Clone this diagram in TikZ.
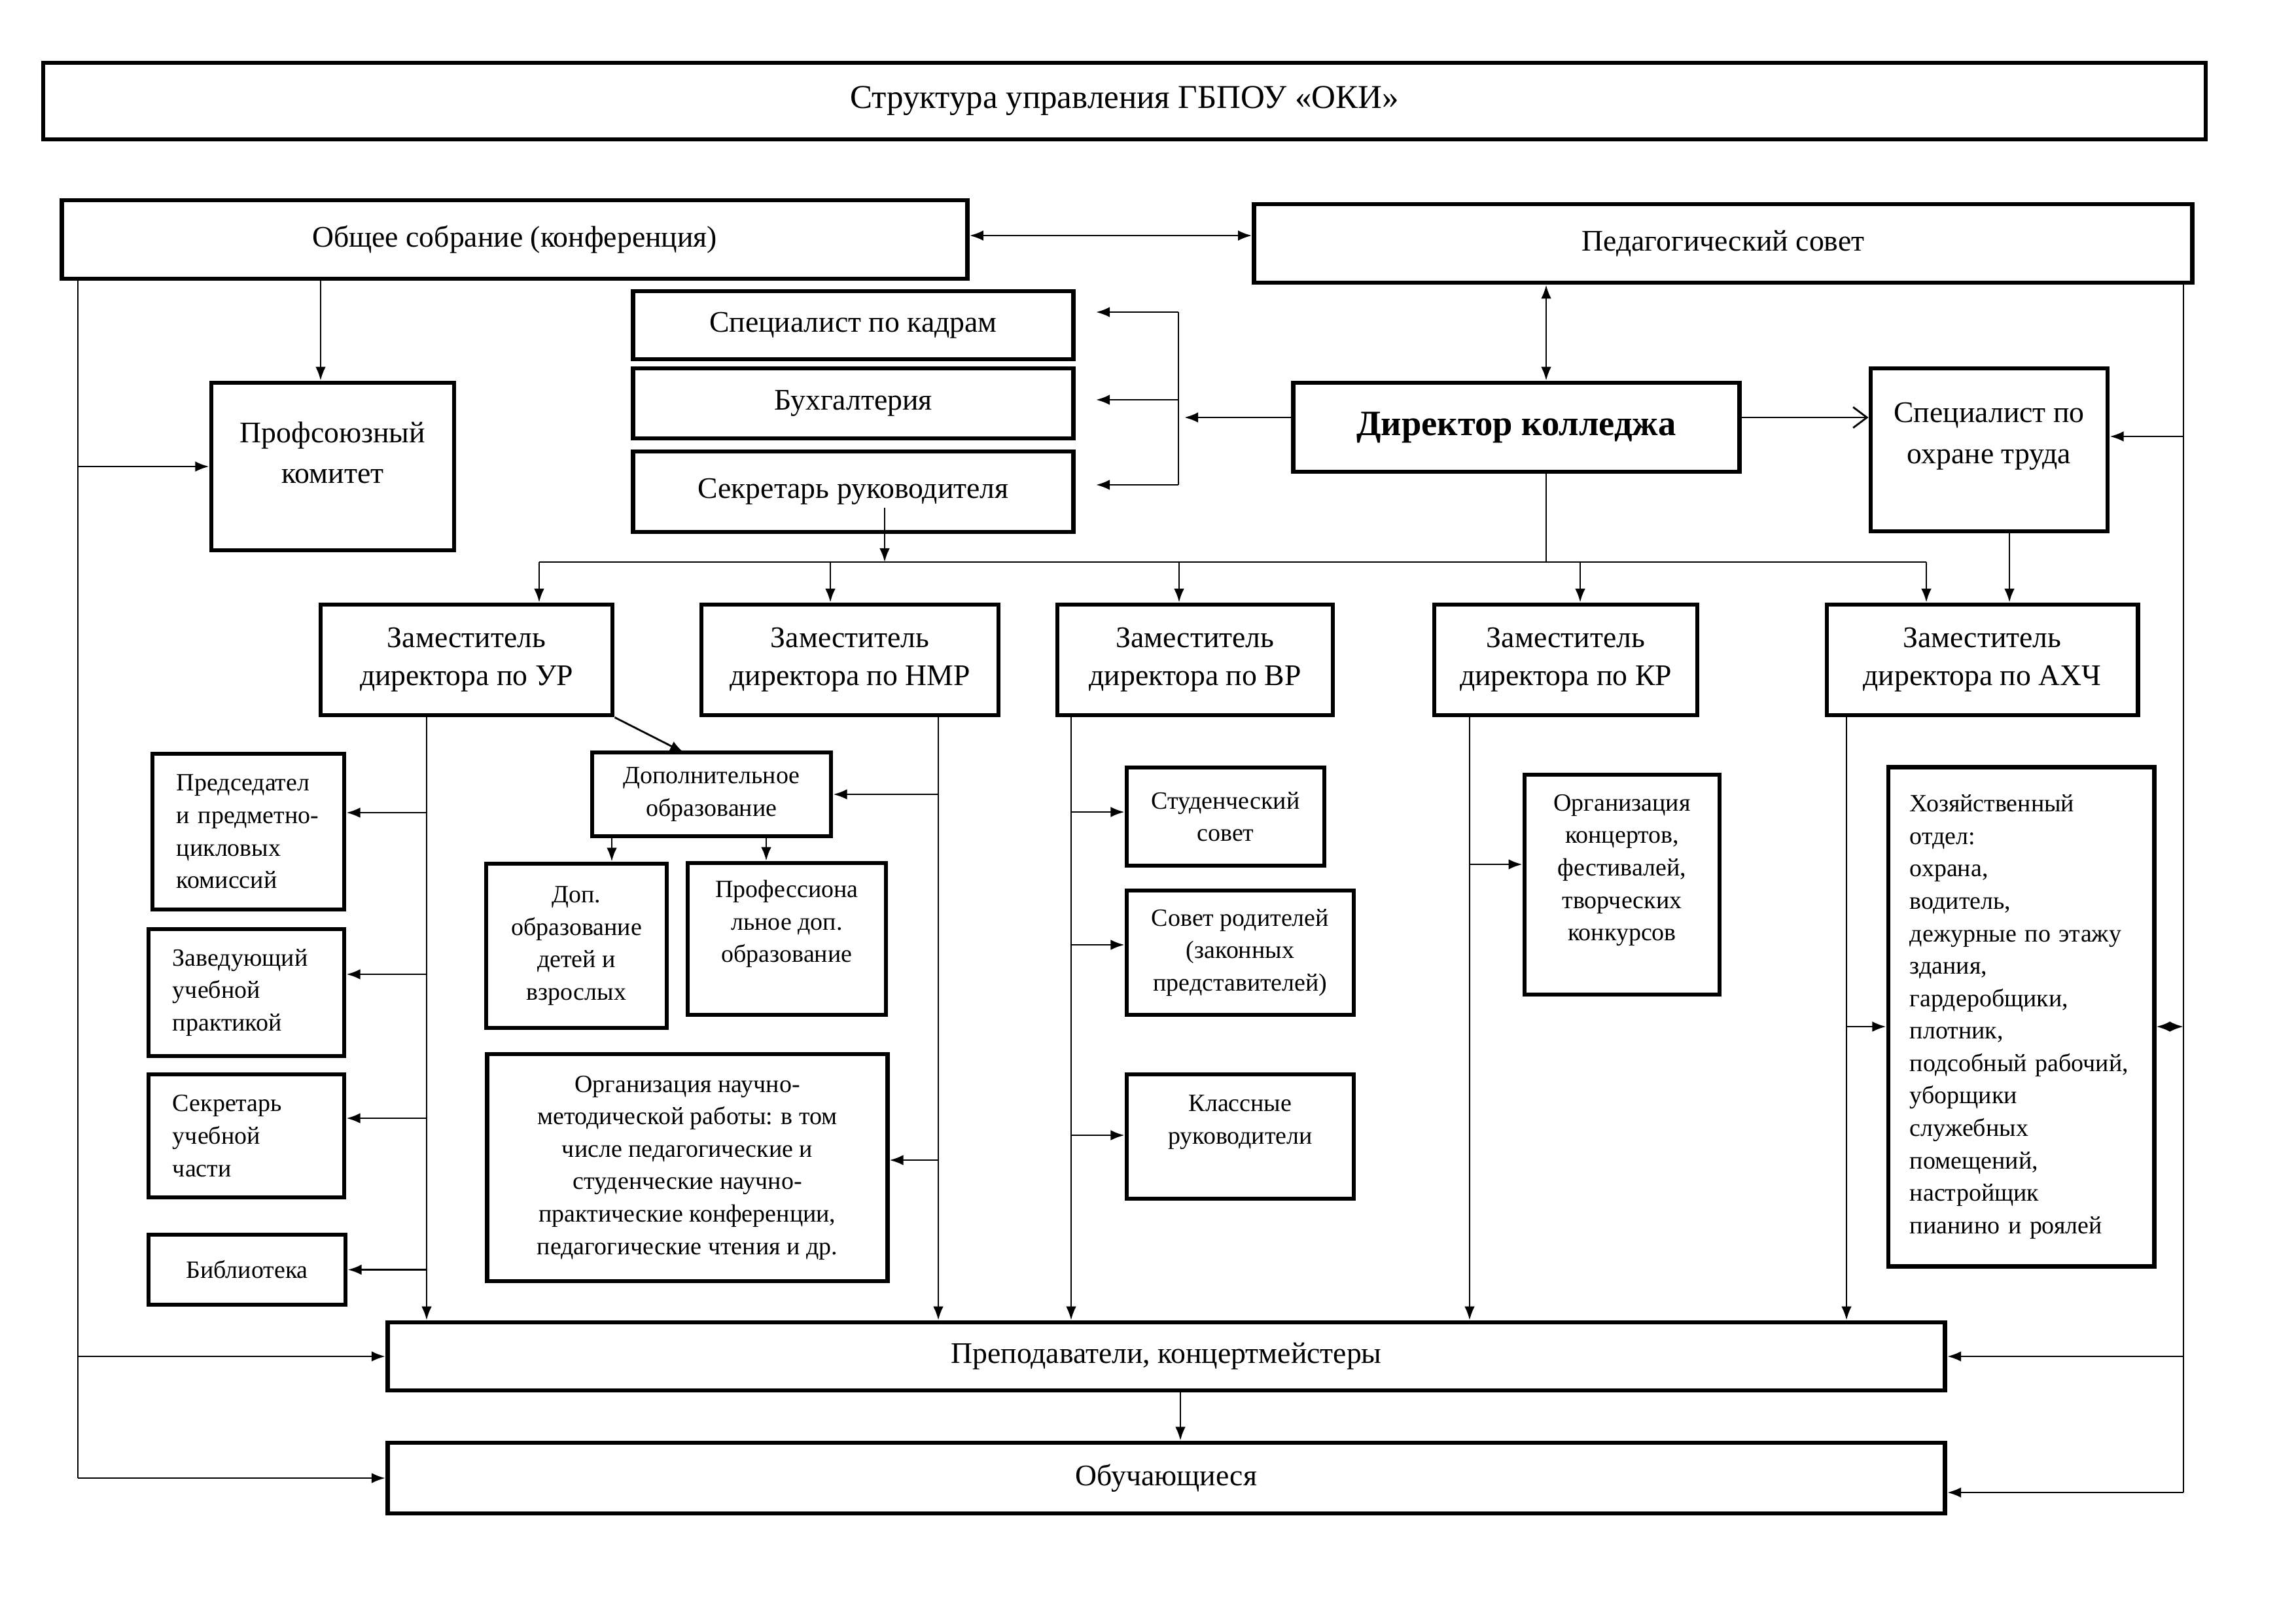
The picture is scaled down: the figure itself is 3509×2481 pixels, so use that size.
\documentclass[tikz,border=0pt]{standalone}
\usepackage{fontspec}
\setmainfont{Liberation Serif}
\usetikzlibrary{arrows.meta}
\newcommand\ftitle{\fontsize{14.5}{16.5}\selectfont}
\newcommand\fmain{\fontsize{13}{16.5}\selectfont}
\newcommand\fsmall{\fontsize{10.8}{14.1}\selectfont}
\newcommand\fbig{\fontsize{15.5}{18}\selectfont\bfseries}
\tikzset{
  box/.style={draw, line width=1.9pt, inner sep=0pt, align=center, font=\fmain},
  sbox/.style={box, font=\fsmall},
  lbox/.style={sbox, align=left, inner xsep=0.37cm},
  txt/.style={inner sep=0pt, align=center, font=\fmain},
  stxt/.style={txt, font=\fsmall},
  conn/.style={line width=0.8pt},
  arr/.style={conn, -{Latex[length=6pt,width=4.5pt]}},
  darr/.style={conn, {Latex[length=6pt,width=4.5pt]}-{Latex[length=6pt,width=4.5pt]}},
  oarr/.style={conn, -{Straight Barb[length=6pt,width=9pt,line width=0.8pt]}},
}
\begin{document}
\begin{tikzpicture}[x=0.01cm,y=-0.01cm]
\useasboundingbox (0,0) rectangle (3509,2481);
% ---------- boxes ----------
\node[box, font=\ftitle, minimum width=33.03cm, minimum height=1.17cm] (title) at (1718.5,154.5) {Структура управления ГБПОУ «ОКИ»};
\node[box, minimum width=13.83cm, minimum height=1.20cm] (obshee) at (786.5,366) {Общее собрание (конференция)};
\node[box, minimum width=14.33cm, minimum height=1.20cm] (pedsov) at (2633.5,372) {Педагогический совет};
\node[box, minimum width=6.72cm, minimum height=1.04cm] (kadry) at (1304,497) {Специалист по кадрам};
\node[box, minimum width=6.72cm, minimum height=1.07cm] (buh) at (1304,616.5) {Бухгалтерия};
\node[box, minimum width=6.72cm, minimum height=1.23cm] (sekr) at (1304,751.5) {Секретарь руководителя};
\node[box, minimum width=3.71cm, minimum height=2.56cm] (prof) at (508.5,713) {};
\node[txt] (proft) at (508.5,692) {Профсоюзный\\[1pt]комитет};
\node[box, font=\fbig, minimum width=6.81cm, minimum height=1.36cm] (dir) at (2317.5,653) {Директор колледжа};
\node[box, minimum width=3.62cm, minimum height=2.49cm] (ohrana) at (3040,687.5) {};
\node[txt] (ohranat) at (3040,667) {Специалист по\\[1.5pt]охране труда};
\node[box, minimum width=4.46cm, minimum height=1.69cm] (UR) at (713,1008.5) {Заместитель\\директора по УР};
\node[box, minimum width=4.54cm, minimum height=1.69cm] (NMR) at (1299,1008.5) {Заместитель\\директора по НМР};
\node[box, minimum width=4.21cm, minimum height=1.69cm] (VR) at (1826.5,1008.5) {Заместитель\\директора по ВР};
\node[box, minimum width=4.02cm, minimum height=1.69cm] (KR) at (2393,1008.5) {Заместитель\\директора по КР};
\node[box, minimum width=4.75cm, minimum height=1.69cm] (AHCh) at (3029.5,1008.5) {Заместитель\\директора по АХЧ};
\node[lbox, text width=2.19cm, minimum height=2.38cm] (pred) at (379.5,1271) {Председател\\и предметно-\\цикловых\\комиссий};
\node[lbox, text width=2.25cm, minimum height=1.94cm] (zav) at (376.5,1517) {Заведующий\\учебной\\практикой};
\node[lbox, text width=2.25cm, minimum height=1.88cm] (sek2) at (376.5,1736) {Секретарь\\учебной\\части};
\node[sbox, minimum width=3.01cm, minimum height=1.07cm] (bib) at (377.5,1940.5) {Библиотека};
\node[sbox, minimum width=3.65cm, minimum height=1.28cm] (dop) at (1087.5,1214) {Дополнительное\\образование};
\node[sbox, minimum width=2.76cm, minimum height=2.51cm] (dopdeti) at (881,1445.5) {Доп.\\образование\\детей и\\взрослых};
\node[sbox, minimum width=3.03cm, minimum height=2.32cm] (profdop) at (1202.5,1435) {};
\node[stxt] (profdopt) at (1202.5,1412) {Профессиона\\льное доп.\\образование};
\node[sbox, minimum width=6.11cm, minimum height=3.47cm] (org) at (1050.5,1784.5) {Организация научно-\\методической работы: в том\\числе педагогические и\\студенческие научно-\\практические конференции,\\педагогические чтения и др.};
\node[sbox, minimum width=3.02cm, minimum height=1.50cm] (stud) at (1873,1248) {Студенческий\\совет};
\node[sbox, minimum width=3.47cm, minimum height=1.90cm] (rod) at (1895.5,1456) {Совет родителей\\(законных\\представителей)};
\node[sbox, minimum width=3.47cm, minimum height=1.90cm] (klass) at (1895.5,1737) {};
\node[stxt] (klasst) at (1895.5,1715) {Классные\\руководители};
\node[sbox, minimum width=2.98cm, minimum height=3.36cm] (konc) at (2479,1352) {};
\node[stxt] (konct) at (2479,1330) {Организация\\концертов,\\фестивалей,\\творческих\\конкурсов};
\node[lbox, inner xsep=0.33cm, text width=3.40cm, minimum height=7.62cm] (hoz) at (3089,1554) {Хозяйственный\\отдел:\\охрана,\\водитель,\\дежурные по этажу\\здания,\\гардеробщики,\\плотник,\\подсобный~рабочий,\\уборщики\\служебных\\помещений,\\настройщик\\пианино и роялей};
\node[box, minimum width=23.79cm, minimum height=1.04cm] (prep) at (1782.5,2073) {Преподаватели, концертмейстеры};
\node[box, minimum width=23.79cm, minimum height=1.08cm] (obuch) at (1782.5,2259) {Обучающиеся};
% ---------- reference coordinates ----------
\coordinate (xL) at (119,0);
\coordinate (xR) at (3337,0);
\coordinate (xD) at (2363,0);
\coordinate (xPr) at (490,0);
\coordinate (yAB) at (0,360);
\coordinate (yDir) at (0,638);
\coordinate (Rb) at (3337,2281);
\coordinate (Ro) at (3337,667);
\coordinate (Rh) at (3337,1569);
\coordinate (br1) at (1801,477);
\coordinate (br2) at (1801,611);
\coordinate (br3) at (1801,741);
\coordinate (brd) at (1810,638);
\coordinate (kx) at (1675,0);
\coordinate (sk) at (1352,776);
\coordinate (busL) at (824,859);
\coordinate (b2) at (1269,859);
\coordinate (b3) at (1802,859);
\coordinate (b4) at (2415,859);
\coordinate (busR) at (2944,859);
\coordinate (xO) at (3071,0);
\coordinate (xUR) at (652,0);
\coordinate (u1) at (652,1242);
\coordinate (u2) at (652,1489);
\coordinate (u3) at (652,1709);
\coordinate (dtop) at (1045,1150);
\coordinate (xN) at (1434,0);
\coordinate (n2) at (1434,1773);
\coordinate (xd1) at (935,0);
\coordinate (xd2) at (1171,0);
\coordinate (xV) at (1637,0);
\coordinate (v1) at (1637,1241);
\coordinate (v2) at (1637,1444);
\coordinate (v3) at (1637,1735);
\coordinate (xK) at (2246,0);
\coordinate (k1) at (2246,1321);
\coordinate (xA) at (2822,0);
\coordinate (a1) at (2822,1569);
\coordinate (xP) at (1804,0);
% ---------- connectors ----------
\draw[darr] (obshee.east |- yAB) -- (pedsov.west |- yAB);
\draw[arr] (obshee.south -| xPr) -- (prof.north -| xPr);
\draw[conn] (obshee.south -| xL) -- (obuch.west -| xL);
\draw[arr] (prof.west -| xL) -- (prof.west);
\draw[arr] (prep.west -| xL) -- (prep.west);
\draw[arr] (obuch.west -| xL) -- (obuch.west);
\draw[conn] (pedsov.south -| xR) -- (Rb);
\draw[arr] (Ro) -- (Ro -| ohrana.east);
\draw[arr] (prep.east -| xR) -- (prep.east);
\draw[arr] (Rb) -- (Rb -| obuch.east);
\draw[darr] (Rh -| hoz.east) -- (Rh);
\draw[darr] (pedsov.south -| xD) -- (dir.north -| xD);
\draw[conn] (dir.south -| xD) -- (busL -| xD);
\draw[arr] (dir.west |- yDir) -- (brd);
\draw[conn] (br1) -- (br3);
\draw[arr] (br1) -- (kx |- br1);
\draw[arr] (br2) -- (kx |- br2);
\draw[arr] (br3) -- (kx |- br3);
\draw[oarr] (dir.east |- yDir) -- (ohrana.west |- yDir);
\draw[arr] (sk) -- (sk |- busL);
\draw[conn] (busL) -- (busR);
\draw[arr] (busL) -- (UR.north -| busL);
\draw[arr] (b2) -- (NMR.north -| b2);
\draw[arr] (b3) -- (VR.north -| b3);
\draw[arr] (b4) -- (KR.north -| b4);
\draw[arr] (busR) -- (AHCh.north -| busR);
\draw[arr] (ohrana.south -| xO) -- (AHCh.north -| xO);
% UR
\draw[arr] (UR.south -| xUR) -- (prep.north -| xUR);
\draw[arr] (u1) -- (u1 -| pred.east);
\draw[arr] (u2) -- (u2 -| zav.east);
\draw[arr] (u3) -- (u3 -| sek2.east);
\draw[arr] (bib.east -| xUR) -- (bib.east);
\draw[arr] (UR.south east) -- (dtop);
% NMR
\draw[arr] (NMR.south -| xN) -- (prep.north -| xN);
\draw[arr] (dop.east -| xN) -- (dop.east);
\draw[arr] (n2) -- (n2 -| org.east);
\draw[arr] (dop.south -| xd1) -- (dopdeti.north -| xd1);
\draw[arr] (dop.south -| xd2) -- (profdop.north -| xd2);
% VR
\draw[arr] (VR.south -| xV) -- (prep.north -| xV);
\draw[arr] (v1) -- (v1 -| stud.west);
\draw[arr] (v2) -- (v2 -| rod.west);
\draw[arr] (v3) -- (v3 -| klass.west);
% KR
\draw[arr] (KR.south -| xK) -- (prep.north -| xK);
\draw[arr] (k1) -- (k1 -| konc.west);
% AHCh
\draw[arr] (AHCh.south -| xA) -- (prep.north -| xA);
\draw[arr] (a1) -- (a1 -| hoz.west);
% bottom
\draw[arr] (prep.south -| xP) -- (obuch.north -| xP);
\end{tikzpicture}
\end{document}
